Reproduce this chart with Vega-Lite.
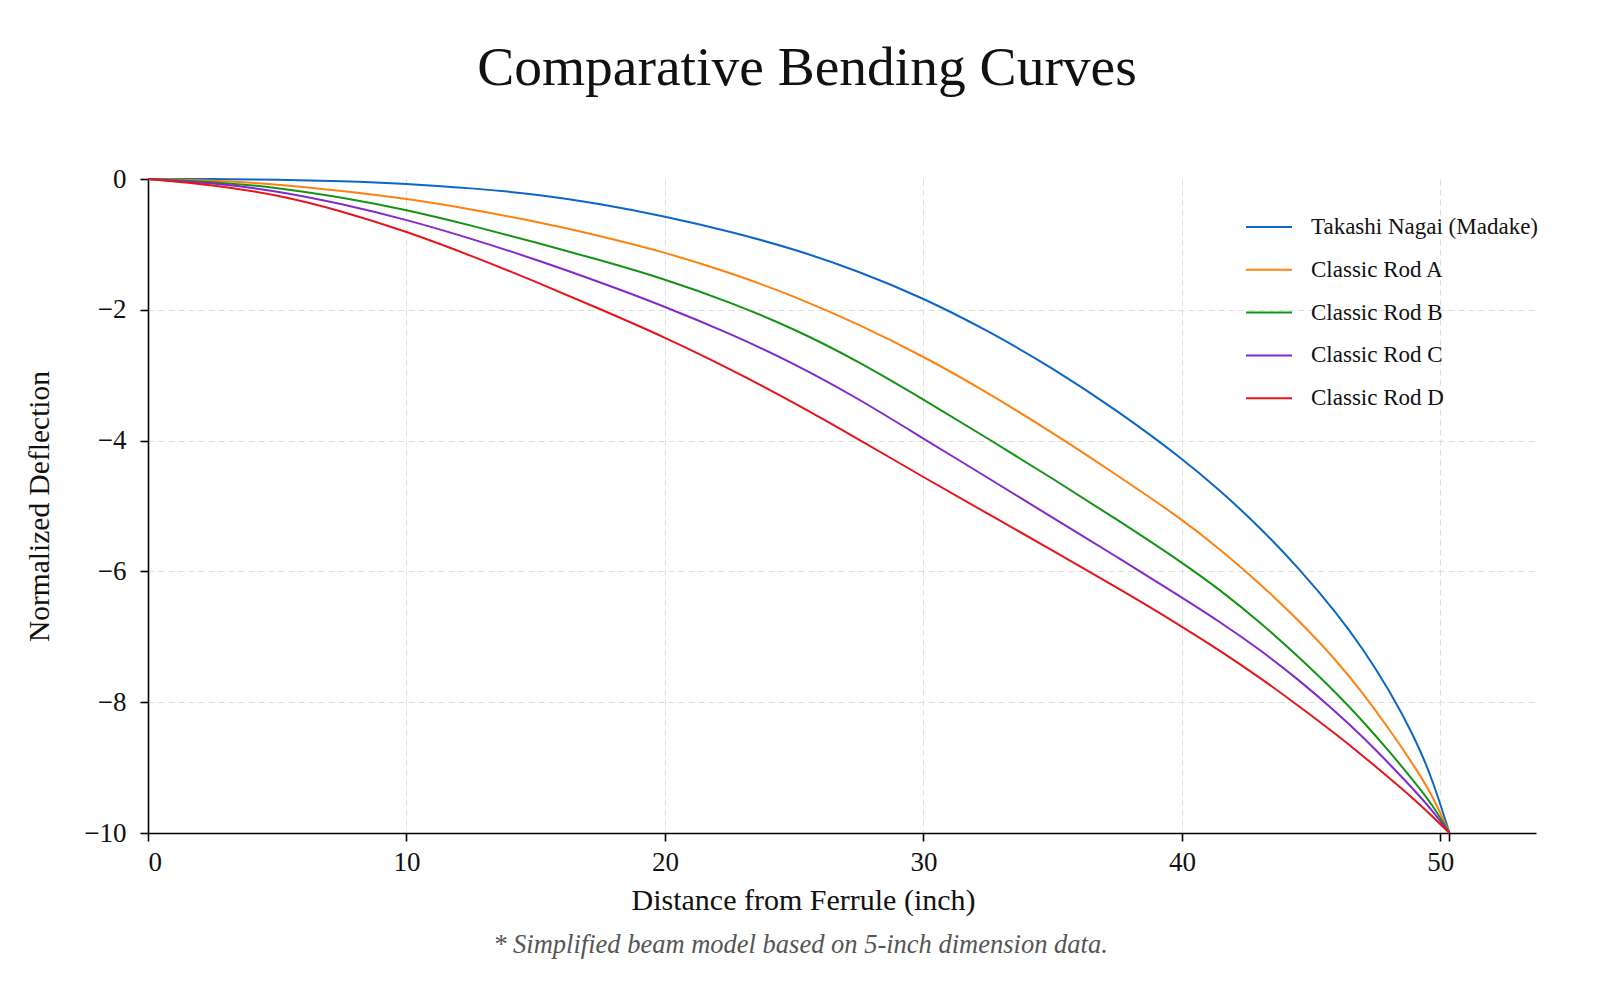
{
  "$schema": "https://vega.github.io/schema/vega-lite/v6.json",
  "width": 1388,
  "height": 654,
  "autosize": "none",
  "padding": {"left": 148, "top": 179, "right": 64, "bottom": 150},
  "background": "#ffffff",
  "title": {
    "text": "Comparative Bending Curves",
    "font": "Liberation Serif",
    "fontSize": 55.5,
    "fontWeight": "normal",
    "color": "#111111",
    "anchor": "middle",
    "dx": -35,
    "offset": 69
  },
  "config": {
    "view": {"stroke": null},
    "font": "Liberation Serif",
    "axis": {
      "domainColor": "#000000",
      "domainWidth": 1.6,
      "tickColor": "#000000",
      "tickWidth": 1.6,
      "tickSize": 8,
      "labelFont": "Liberation Serif",
      "labelFontSize": 27,
      "labelColor": "#111111",
      "titleFont": "Liberation Serif",
      "titleFontWeight": "normal",
      "titleColor": "#111111",
      "gridColor": "#dedede",
      "gridDash": [6, 4],
      "gridWidth": 1
    },
    "legend": {
      "labelFont": "Liberation Serif",
      "labelFontSize": 23,
      "labelColor": "#111111",
      "labelLimit": 400,
      "symbolType": "stroke",
      "symbolStrokeWidth": 2,
      "symbolSize": 2116,
      "labelOffset": 18,
      "rowPadding": 6.8,
      "padding": 0
    }
  },
  "data": {
    "values": [
      {"rod": "Takashi Nagai (Madake)", "x": 0, "y": 0},
      {"rod": "Takashi Nagai (Madake)", "x": 2.5, "y": 0},
      {"rod": "Takashi Nagai (Madake)", "x": 5, "y": -0.01},
      {"rod": "Takashi Nagai (Madake)", "x": 7.5, "y": -0.03},
      {"rod": "Takashi Nagai (Madake)", "x": 10, "y": -0.07},
      {"rod": "Takashi Nagai (Madake)", "x": 12.5, "y": -0.14},
      {"rod": "Takashi Nagai (Madake)", "x": 15, "y": -0.23},
      {"rod": "Takashi Nagai (Madake)", "x": 17.5, "y": -0.38},
      {"rod": "Takashi Nagai (Madake)", "x": 20, "y": -0.57},
      {"rod": "Takashi Nagai (Madake)", "x": 22.5, "y": -0.8},
      {"rod": "Takashi Nagai (Madake)", "x": 25, "y": -1.07},
      {"rod": "Takashi Nagai (Madake)", "x": 27.5, "y": -1.41},
      {"rod": "Takashi Nagai (Madake)", "x": 30, "y": -1.82},
      {"rod": "Takashi Nagai (Madake)", "x": 32.5, "y": -2.32},
      {"rod": "Takashi Nagai (Madake)", "x": 35, "y": -2.89},
      {"rod": "Takashi Nagai (Madake)", "x": 37.5, "y": -3.54},
      {"rod": "Takashi Nagai (Madake)", "x": 40, "y": -4.27},
      {"rod": "Takashi Nagai (Madake)", "x": 41.5, "y": -4.77},
      {"rod": "Takashi Nagai (Madake)", "x": 43, "y": -5.32},
      {"rod": "Takashi Nagai (Madake)", "x": 44.5, "y": -5.94},
      {"rod": "Takashi Nagai (Madake)", "x": 46, "y": -6.64},
      {"rod": "Takashi Nagai (Madake)", "x": 47, "y": -7.18},
      {"rod": "Takashi Nagai (Madake)", "x": 48, "y": -7.8},
      {"rod": "Takashi Nagai (Madake)", "x": 49, "y": -8.53},
      {"rod": "Takashi Nagai (Madake)", "x": 49.7, "y": -9.18},
      {"rod": "Takashi Nagai (Madake)", "x": 50.35, "y": -10},
      {"rod": "Classic Rod A", "x": 0, "y": 0},
      {"rod": "Classic Rod A", "x": 2.5, "y": -0.02},
      {"rod": "Classic Rod A", "x": 5, "y": -0.08},
      {"rod": "Classic Rod A", "x": 7.5, "y": -0.18},
      {"rod": "Classic Rod A", "x": 10, "y": -0.3},
      {"rod": "Classic Rod A", "x": 12.5, "y": -0.46},
      {"rod": "Classic Rod A", "x": 15, "y": -0.65},
      {"rod": "Classic Rod A", "x": 17.5, "y": -0.87},
      {"rod": "Classic Rod A", "x": 20, "y": -1.12},
      {"rod": "Classic Rod A", "x": 22.5, "y": -1.43},
      {"rod": "Classic Rod A", "x": 25, "y": -1.79},
      {"rod": "Classic Rod A", "x": 27.5, "y": -2.22},
      {"rod": "Classic Rod A", "x": 30, "y": -2.71},
      {"rod": "Classic Rod A", "x": 32.5, "y": -3.27},
      {"rod": "Classic Rod A", "x": 35, "y": -3.88},
      {"rod": "Classic Rod A", "x": 37.5, "y": -4.53},
      {"rod": "Classic Rod A", "x": 40, "y": -5.2},
      {"rod": "Classic Rod A", "x": 41.5, "y": -5.67},
      {"rod": "Classic Rod A", "x": 43, "y": -6.18},
      {"rod": "Classic Rod A", "x": 44.5, "y": -6.74},
      {"rod": "Classic Rod A", "x": 46, "y": -7.37},
      {"rod": "Classic Rod A", "x": 47, "y": -7.86},
      {"rod": "Classic Rod A", "x": 48, "y": -8.4},
      {"rod": "Classic Rod A", "x": 49, "y": -8.98},
      {"rod": "Classic Rod A", "x": 49.7, "y": -9.43},
      {"rod": "Classic Rod A", "x": 50.35, "y": -10},
      {"rod": "Classic Rod B", "x": 0, "y": 0},
      {"rod": "Classic Rod B", "x": 2.5, "y": -0.04},
      {"rod": "Classic Rod B", "x": 5, "y": -0.13},
      {"rod": "Classic Rod B", "x": 7.5, "y": -0.28},
      {"rod": "Classic Rod B", "x": 10, "y": -0.47},
      {"rod": "Classic Rod B", "x": 12.5, "y": -0.71},
      {"rod": "Classic Rod B", "x": 15, "y": -0.97},
      {"rod": "Classic Rod B", "x": 17.5, "y": -1.24},
      {"rod": "Classic Rod B", "x": 20, "y": -1.53},
      {"rod": "Classic Rod B", "x": 22.5, "y": -1.88},
      {"rod": "Classic Rod B", "x": 25, "y": -2.29},
      {"rod": "Classic Rod B", "x": 27.5, "y": -2.79},
      {"rod": "Classic Rod B", "x": 30, "y": -3.37},
      {"rod": "Classic Rod B", "x": 32.5, "y": -3.97},
      {"rod": "Classic Rod B", "x": 35, "y": -4.58},
      {"rod": "Classic Rod B", "x": 37.5, "y": -5.21},
      {"rod": "Classic Rod B", "x": 40, "y": -5.86},
      {"rod": "Classic Rod B", "x": 41.5, "y": -6.29},
      {"rod": "Classic Rod B", "x": 43, "y": -6.77},
      {"rod": "Classic Rod B", "x": 44.5, "y": -7.3},
      {"rod": "Classic Rod B", "x": 46, "y": -7.87},
      {"rod": "Classic Rod B", "x": 47, "y": -8.29},
      {"rod": "Classic Rod B", "x": 48, "y": -8.74},
      {"rod": "Classic Rod B", "x": 49, "y": -9.22},
      {"rod": "Classic Rod B", "x": 49.7, "y": -9.57},
      {"rod": "Classic Rod B", "x": 50.35, "y": -10},
      {"rod": "Classic Rod C", "x": 0, "y": 0},
      {"rod": "Classic Rod C", "x": 2.5, "y": -0.06},
      {"rod": "Classic Rod C", "x": 5, "y": -0.18},
      {"rod": "Classic Rod C", "x": 7.5, "y": -0.38},
      {"rod": "Classic Rod C", "x": 10, "y": -0.62},
      {"rod": "Classic Rod C", "x": 12.5, "y": -0.91},
      {"rod": "Classic Rod C", "x": 15, "y": -1.23},
      {"rod": "Classic Rod C", "x": 17.5, "y": -1.58},
      {"rod": "Classic Rod C", "x": 20, "y": -1.95},
      {"rod": "Classic Rod C", "x": 22.5, "y": -2.36},
      {"rod": "Classic Rod C", "x": 25, "y": -2.82},
      {"rod": "Classic Rod C", "x": 27.5, "y": -3.36},
      {"rod": "Classic Rod C", "x": 30, "y": -3.97},
      {"rod": "Classic Rod C", "x": 32.5, "y": -4.57},
      {"rod": "Classic Rod C", "x": 35, "y": -5.18},
      {"rod": "Classic Rod C", "x": 37.5, "y": -5.78},
      {"rod": "Classic Rod C", "x": 40, "y": -6.4},
      {"rod": "Classic Rod C", "x": 41.5, "y": -6.78},
      {"rod": "Classic Rod C", "x": 43, "y": -7.19},
      {"rod": "Classic Rod C", "x": 44.5, "y": -7.65},
      {"rod": "Classic Rod C", "x": 46, "y": -8.16},
      {"rod": "Classic Rod C", "x": 47, "y": -8.53},
      {"rod": "Classic Rod C", "x": 48, "y": -8.93},
      {"rod": "Classic Rod C", "x": 49, "y": -9.35},
      {"rod": "Classic Rod C", "x": 49.7, "y": -9.66},
      {"rod": "Classic Rod C", "x": 50.35, "y": -10},
      {"rod": "Classic Rod D", "x": 0, "y": 0},
      {"rod": "Classic Rod D", "x": 2.5, "y": -0.09},
      {"rod": "Classic Rod D", "x": 5, "y": -0.24},
      {"rod": "Classic Rod D", "x": 7.5, "y": -0.49},
      {"rod": "Classic Rod D", "x": 10, "y": -0.8},
      {"rod": "Classic Rod D", "x": 12.5, "y": -1.17},
      {"rod": "Classic Rod D", "x": 15, "y": -1.57},
      {"rod": "Classic Rod D", "x": 17.5, "y": -1.99},
      {"rod": "Classic Rod D", "x": 20, "y": -2.42},
      {"rod": "Classic Rod D", "x": 22.5, "y": -2.9},
      {"rod": "Classic Rod D", "x": 25, "y": -3.42},
      {"rod": "Classic Rod D", "x": 27.5, "y": -3.98},
      {"rod": "Classic Rod D", "x": 30, "y": -4.56},
      {"rod": "Classic Rod D", "x": 32.5, "y": -5.12},
      {"rod": "Classic Rod D", "x": 35, "y": -5.68},
      {"rod": "Classic Rod D", "x": 37.5, "y": -6.25},
      {"rod": "Classic Rod D", "x": 40, "y": -6.84},
      {"rod": "Classic Rod D", "x": 41.5, "y": -7.22},
      {"rod": "Classic Rod D", "x": 43, "y": -7.62},
      {"rod": "Classic Rod D", "x": 44.5, "y": -8.05},
      {"rod": "Classic Rod D", "x": 46, "y": -8.5},
      {"rod": "Classic Rod D", "x": 47, "y": -8.82},
      {"rod": "Classic Rod D", "x": 48, "y": -9.15},
      {"rod": "Classic Rod D", "x": 49, "y": -9.49},
      {"rod": "Classic Rod D", "x": 49.7, "y": -9.75},
      {"rod": "Classic Rod D", "x": 50.35, "y": -10}
    ]
  },
  "encoding": {
    "y": {
      "field": "y",
      "type": "quantitative",
      "title": "Normalized Deflection",
      "scale": {"domain": [-10, 0], "nice": false, "zero": false},
      "axis": {
        "values": [-10, -8, -6, -4, -2, 0],
        "labelPadding": 14,
        "titleFontSize": 29.5,
        "titleX": -109,
        "titleY": 327,
        "titleAngle": -90,
        "titleAlign": "center",
        "titleBaseline": "middle",
        "gridOpacity": {"condition": {"test": "datum.value === 0", "value": 0}, "value": 1}
      }
    }
  },
  "layer": [
    {
      "mark": {"type": "line", "strokeWidth": 2, "interpolate": "basis"},
      "encoding": {
        "x": {
          "field": "x",
          "type": "quantitative",
          "title": "Distance from Ferrule (inch)",
          "scale": {"domain": [0, 53.7], "nice": false, "zero": false},
          "axis": {
            "orient": "bottom",
            "values": [0, 10, 20, 30, 40, 50],
            "labelPadding": 8,
            "titleFontSize": 30,
            "titleX": 655,
            "titleY": 67,
            "titleAlign": "center",
            "titleBaseline": "middle"
          }
        },
        "color": {
          "field": "rod",
          "type": "nominal",
          "title": null,
          "scale": {
            "domain": ["Takashi Nagai (Madake)", "Classic Rod A", "Classic Rod B", "Classic Rod C", "Classic Rod D"],
            "range": ["#0c66c9", "#ff8210", "#139413", "#8428cf", "#e8131b"]
          },
          "legend": {"orient": "none", "legendX": 1097, "legendY": 24}
        }
      }
    },
    {
      "mark": {"type": "point", "opacity": 0},
      "encoding": {
        "x": {
          "field": "x",
          "type": "quantitative",
          "title": "* Simplified beam model based on 5-inch dimension data.",
          "axis": {
            "orient": "bottom",
            "values": [50.35],
            "labels": false,
            "domain": false,
            "grid": false,
            "titleFontSize": 26.5,
            "titleFontStyle": "italic",
            "titleColor": "#555555",
            "titleX": 652,
            "titleY": 111,
            "titleAlign": "center",
            "titleBaseline": "middle"
          }
        }
      }
    }
  ],
  "resolve": {"axis": {"x": "independent"}}
}
